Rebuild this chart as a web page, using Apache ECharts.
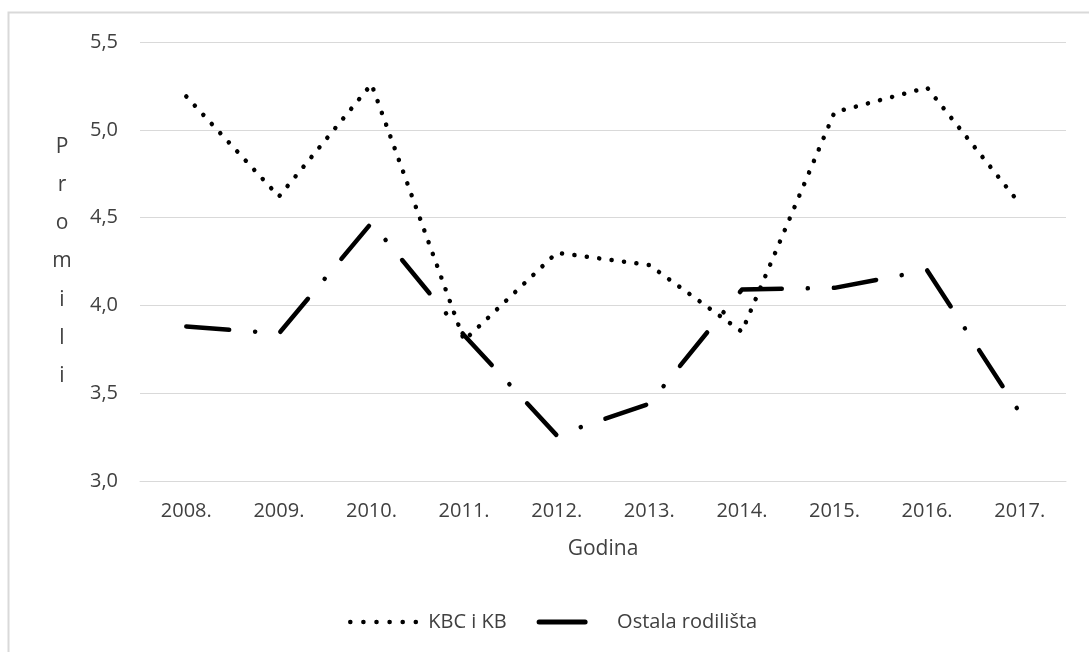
<!DOCTYPE html>
<html>
<head>
<meta charset="utf-8">
<script src="https://cdn.jsdelivr.net/npm/echarts@6/dist/echarts.min.js"></script>
<style>
html,body{margin:0;padding:0;background:#fff;}
#c{width:1089px;height:652px;}
</style>
</head>
<body>
<div id="c"></div>
<script>
var categories = ['2008.', '2009.', '2010.', '2011.', '2012.', '2013.', '2014.', '2015.', '2016.', '2017.'];
var kbcValues = [5.19, 4.62, 5.26, 3.80, 4.30, 4.23, 3.85, 5.10, 5.24, 4.58];
var ostalaValues = [3.88, 3.84, 4.47, 3.83, 3.26, 3.44, 4.09, 4.10, 4.20, 3.39];
var seriesNames = ['KBC i KB', 'Ostala rodilišta'];
var yTicks = {min: 3.0, max: 5.5, interval: 0.5};

var FONT = '"Open Sans", "Noto Sans", sans-serif';
var TXT = '#404040';

var chart = echarts.init(document.getElementById('c'), null, {renderer: 'canvas'});
chart.setOption({
  animation: false,
  backgroundColor: '#fff',
  graphic: [{
    type: 'rect',
    shape: {x: 8.5, y: 12.5, width: 1300, height: 900},
    style: {fill: 'none', stroke: '#d9d9d9', lineWidth: 2},
    silent: true, z: -10
  }],
  grid: {left: 140, right: 23, top: 42, bottom: 171, containLabel: false},
  legend: {
    bottom: 15,
    left: 343,
    itemWidth: 73,
    itemHeight: 14,
    itemGap: 30,
    textStyle: {fontFamily: FONT, fontSize: 20, color: TXT},
    data: [
      {name: seriesNames[0], itemStyle: {opacity: 0}, lineStyle: {color: '#000', width: 4.5, type: [0.1, 13], cap: 'round'}},
      {name: seriesNames[1], itemStyle: {opacity: 0}, lineStyle: {color: '#000', width: 5, type: [46, 200], cap: 'round'}}
    ]
  },
  xAxis: {
    type: 'category',
    data: categories,
    boundaryGap: true,
    name: 'Godina',
    nameLocation: 'middle',
    nameGap: 58,
    nameTextStyle: {fontFamily: FONT, fontSize: 21, color: TXT},
    axisLine: {show: true, lineStyle: {color: '#d9d9d9', width: 1}},
    axisTick: {show: false},
    axisLabel: {fontFamily: FONT, fontSize: 20, color: TXT, margin: 20}
  },
  yAxis: {
    type: 'value',
    min: yTicks.min,
    max: yTicks.max,
    interval: yTicks.interval,
    name: 'P\nr\no\nm\ni\nl\ni',
    nameLocation: 'middle',
    nameRotate: 0,
    nameGap: 78,
    nameTextStyle: {fontFamily: FONT, fontSize: 21, color: TXT, lineHeight: 38.2, align: 'center', padding: [16, 0, 0, 0]},
    axisLine: {show: false},
    axisTick: {show: false},
    splitLine: {lineStyle: {color: '#d9d9d9', width: 1}},
    axisLabel: {
      fontFamily: FONT, fontSize: 20, color: TXT, margin: 22,
      formatter: function (v) { return v.toFixed(1).replace('.', ','); }
    }
  },
  series: [
    {
      name: seriesNames[0],
      type: 'line',
      data: kbcValues,
      symbol: 'none',
      color: '#000',
      lineStyle: {color: '#000', width: 4.5, type: [0.1, 12.4], cap: 'round', join: 'round'}
    },
    {
      name: seriesNames[1],
      type: 'line',
      data: ostalaValues,
      symbol: 'none',
      color: '#000',
      lineStyle: {color: '#000', width: 4.5, type: [43, 26, 0.1, 26], cap: 'round', join: 'round'}
    }
  ]
});
</script>
</body>
</html>
